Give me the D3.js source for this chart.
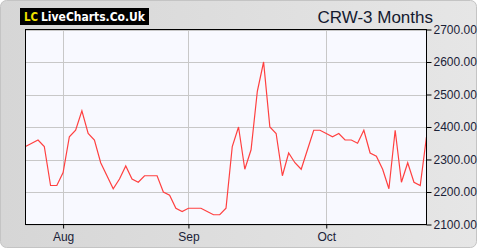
<!DOCTYPE html>
<html><head><meta charset="utf-8">
<script src="https://cdn.jsdelivr.net/npm/d3@7"></script>
<style>body{margin:0;background:#fff}svg{display:block}</style>
</head><body><svg id="c" width="480" height="250"></svg>
<script>
const dates = ["2020-07-24","2020-07-27","2020-07-28","2020-07-29","2020-07-30","2020-07-31",
"2020-08-03","2020-08-04","2020-08-05","2020-08-06","2020-08-07","2020-08-10","2020-08-11","2020-08-12","2020-08-13","2020-08-14",
"2020-08-17","2020-08-18","2020-08-19","2020-08-20","2020-08-21","2020-08-24","2020-08-25","2020-08-26","2020-08-27","2020-08-28",
"2020-09-01","2020-09-02","2020-09-03","2020-09-04","2020-09-07","2020-09-08","2020-09-09","2020-09-10","2020-09-11",
"2020-09-14","2020-09-15","2020-09-16","2020-09-17","2020-09-18","2020-09-21","2020-09-22","2020-09-23","2020-09-24","2020-09-25",
"2020-09-28","2020-09-29","2020-09-30","2020-10-01","2020-10-02","2020-10-05","2020-10-06","2020-10-07","2020-10-08","2020-10-09",
"2020-10-12","2020-10-13","2020-10-14","2020-10-15","2020-10-16","2020-10-19","2020-10-20","2020-10-21","2020-10-22","2020-10-23"];
const prices = [2340,2350,2360,2340,2220,2220,2260,2370,2390,2450,2380,2360,2290,2250,2210,2240,
2280,2240,2230,2250,2250,2250,2200,2190,2150,2140,2150,2150,2150,2140,2130,2130,2150,2340,2400,
2270,2330,2510,2600,2400,2380,2250,2320,2290,2270,2330,2390,2390,2380,2370,2380,2360,2360,2350,2390,
2320,2310,2270,2210,2390,2230,2290,2230,2220,2370];
const xTickDates = ["2020-08-03","2020-09-01","2020-10-01"];
const xTickLabels = ["Aug","Sep","Oct"];
const yTicks = [2100,2200,2300,2400,2500,2600,2700];
const title = "CRW-3 Months";

const svg = d3.select("#c");
const defs = svg.append("defs");
const g1 = defs.append("linearGradient").attr("id","bg").attr("x1","0").attr("x2","1").attr("y1","0").attr("y2","0");
g1.append("stop").attr("offset","0").attr("stop-color","#d6d6d6");
g1.append("stop").attr("offset","1").attr("stop-color","#e6e6e6");
svg.append("rect").attr("width",480).attr("height",250).attr("fill","#ffffff");
svg.append("rect").attr("x",0.5).attr("y",0.5).attr("width",476).attr("height",247).attr("rx",6)
  .attr("fill","url(#bg)").attr("stroke","#c4c4c4");

const L=25.5, R=426.5, T=29.5, B=224.5;
const x = d3.scalePoint().domain(dates).range([L,R]);
const y = d3.scaleLinear().domain([2100,2700]).range([B,T]);

svg.append("rect").attr("x",L).attr("y",T).attr("width",R-L).attr("height",B-T).attr("fill","#f8f9ff");

// grid
svg.append("g").selectAll("line").data(yTicks).join("line")
  .attr("x1",L).attr("x2",R).attr("y1",d=>Math.round(y(d))+0.5).attr("y2",d=>Math.round(y(d))+0.5)
  .attr("stroke","#c8c8c8");
svg.append("g").selectAll("line").data(xTickDates).join("line")
  .attr("y1",T).attr("y2",B).attr("x1",d=>Math.round(x(d))+0.5).attr("x2",d=>Math.round(x(d))+0.5)
  .attr("stroke","#c8c8c8");

// line
svg.append("path").datum(prices)
  .attr("d", d3.line().x((d,i)=>x(dates[i])).y(d=>y(d)))
  .attr("fill","none").attr("stroke","#ff4040").attr("stroke-width",1.2);

// frame
svg.append("rect").attr("x",L).attr("y",T).attr("width",R-L).attr("height",B-T).attr("fill","none").attr("stroke","#000");

// right axis
const ya = d3.axisRight(y).tickValues(yTicks).tickSize(5).tickPadding(2).tickFormat(d3.format(".2f"));
const yg = svg.append("g").attr("transform",`translate(${R},0)`).call(ya);
yg.select(".domain").remove();
yg.selectAll("text").attr("font-family","Liberation Sans, Arial, sans-serif").attr("font-size",12).attr("fill","#1a2238");

// bottom axis
const xa = d3.axisBottom(x).tickValues(xTickDates).tickSize(4).tickPadding(4)
  .tickFormat(d=>xTickLabels[xTickDates.indexOf(d)]);
const xg = svg.append("g").attr("transform",`translate(0,${B})`).call(xa);
xg.select(".domain").remove();
xg.selectAll("text").attr("font-family","Liberation Sans, Arial, sans-serif").attr("font-size",12).attr("fill","#1a2238");

// logo
svg.append("rect").attr("x",20).attr("y",8).attr("width",129).attr("height",17).attr("fill","#000");
svg.append("text").attr("x",24).attr("y",21).attr("font-family","DejaVu Sans, sans-serif").attr("font-weight","bold")
  .attr("font-size",12).attr("fill","#f0e000").attr("textLength",14).attr("lengthAdjust","spacingAndGlyphs").text("LC");
svg.append("text").attr("x",41).attr("y",21).attr("font-family","DejaVu Sans, sans-serif").attr("font-weight","bold")
  .attr("font-size",12).attr("fill","#ffffff").attr("textLength",104).attr("lengthAdjust","spacingAndGlyphs").text("LiveCharts.Co.Uk");

// title
svg.append("text").attr("x",433).attr("y",23).attr("text-anchor","end")
  .attr("font-family","Liberation Sans, Arial, sans-serif").attr("font-size",17).attr("fill","#141a30").text(title);
</script></body></html>
